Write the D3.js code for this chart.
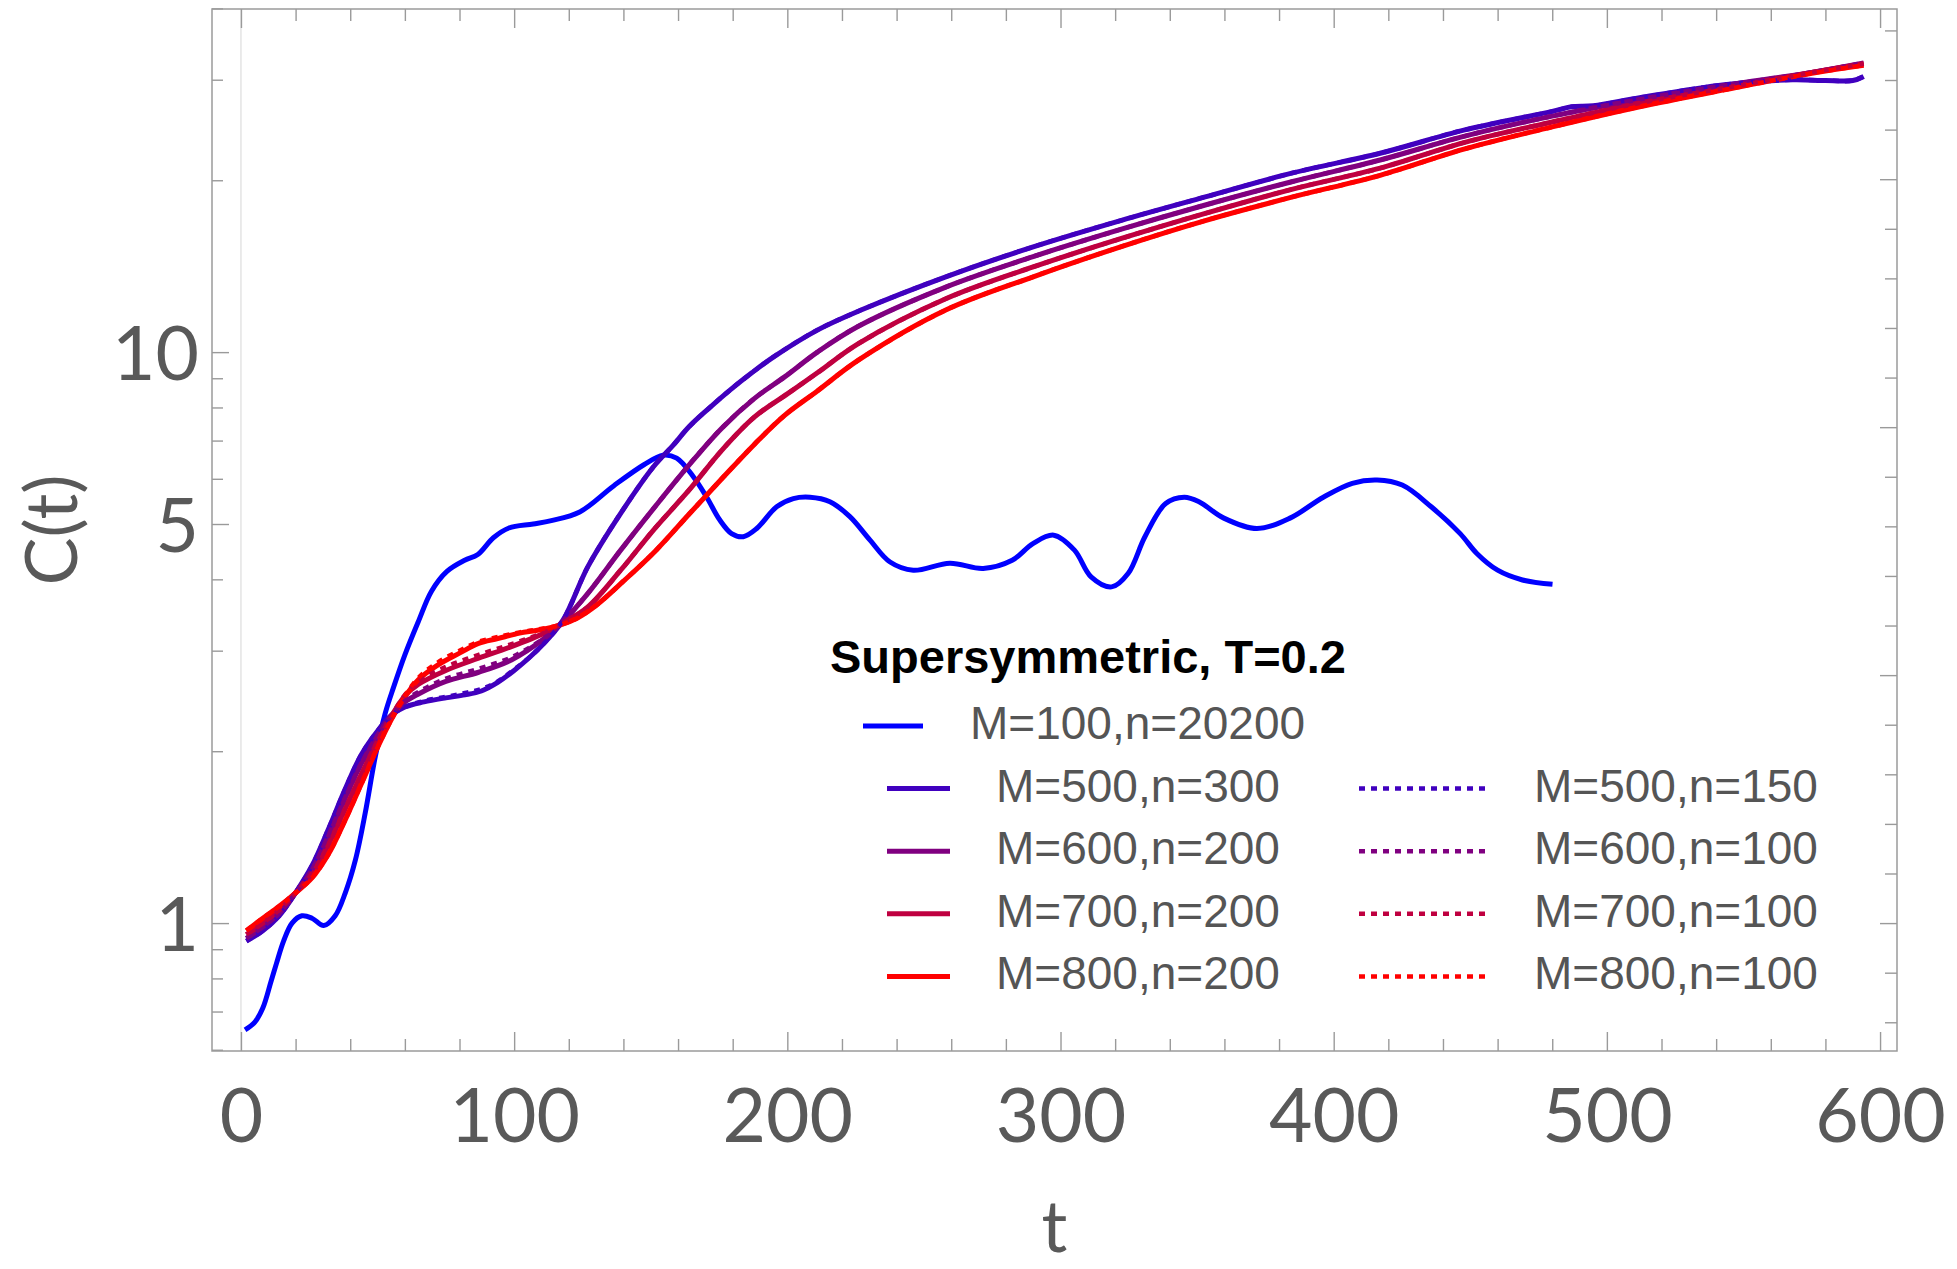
<!DOCTYPE html>
<html>
<head>
<meta charset="utf-8">
<script src="https://cdn.jsdelivr.net/npm/d3@7"></script>
<style>
  body { margin: 0; background: #fff; }
</style>
</head>
<body>
<div id="chart"></div>
<script>
const W = 1957, H = 1269;
const frame = {left: 212, right: 1897, top: 9, bottom: 1051};

// tick values
const xMajor = [0, 100, 200, 300, 400, 500, 600];
const xMinor = [20, 40, 60, 80, 120, 140, 160, 180, 220, 240, 260, 280, 320, 340, 360, 380,
                420, 440, 460, 480, 520, 540, 560, 580];
const yMajor = [1, 5, 10];
const yMinor = [0.6, 0.7, 0.8, 0.9, 2, 3, 4, 6, 7, 8, 9, 20, 30, 40];
const lnMajor = [0, 1, 2, 3];
const lnMinor = [-0.4, -0.2, 0.2, 0.4, 0.6, 0.8, 1.2, 1.4, 1.6, 1.8, 2.2, 2.4, 2.6, 2.8,
                 3.2, 3.4, 3.6];

// series [t, C(t)]
const m100 = [[1.5,0.65],[5,0.67],[8,0.71],[11,0.79],[13,0.85],[15.6,0.93],[18.7,1.0],[22.3,1.03],
  [26,1.02],[30.3,0.99],[34.5,1.03],[38.2,1.13],[41.9,1.29],[45.5,1.56],[49.2,1.96],[52.8,2.33],
  [56,2.6],[60,2.95],[65,3.38],[69.7,3.81],[75.4,4.13],[81.9,4.32],[86.7,4.42],[92.4,4.73],
  [98.1,4.92],[107,5.0],[113.6,5.07],[124,5.25],[136.4,5.83],[147.5,6.35],[154.5,6.6],[159.5,6.52],
  [165.6,6.05],[170.5,5.57],[175.3,5.08],[179.6,4.81],[183.9,4.75],[188.8,4.91],[196.1,5.36],
  [202.2,5.54],[208.3,5.57],[215.6,5.47],[222.9,5.15],[230.2,4.69],[237.6,4.29],[246.1,4.15],
  [259.5,4.27],[271.7,4.18],[282.3,4.32],[289.9,4.62],[297.5,4.78],[305.1,4.5],[311.2,4.04],
  [318.7,3.88],[324.8,4.1],[330.9,4.75],[338.5,5.43],[345.3,5.57],[350.7,5.47],[359.8,5.12],
  [371.9,4.91],[384,5.12],[396.2,5.57],[406.8,5.89],[415.9,5.97],[425.1,5.85],[435.7,5.36],
  [446.3,4.81],[452.4,4.44],[460,4.15],[469.1,3.99],[480.1,3.92]];

const m500 = [[2,0.93],[8,0.97],[14,1.03],[20,1.13],[26,1.26],[32,1.46],[38,1.71],[44,1.97],
  [50,2.17],[55,2.31],[60,2.39],[67,2.44],[75,2.48],[82,2.51],[88,2.55],[94,2.64],[100,2.77],
  [106,2.93],[112,3.13],[118,3.4],[127,4.21],[139,5.22],[151,6.3],[158,6.85],[164,7.4],[171,7.95],
  [179,8.58],[187,9.2],[195,9.81],[211,10.93],[227,11.85],[258,13.55],[290,15.29],[322,17.0],
  [353,18.7],[385,20.6],[417,22.3],[448,24.5],[480,26.4],[487,26.9],[495,27.0],[512,27.9],
  [543,29.4],[568,30.0],[580,29.9],[590,29.9],[594,30.4]];
const m600 = [[2,0.94],[8,0.985],[14,1.04],[20,1.13],[26,1.24],[32,1.42],[38,1.65],[44,1.9],
  [50,2.13],[55,2.31],[60,2.44],[65,2.52],[75,2.65],[87,2.75],[99,2.89],[111,3.15],[118,3.38],
  [127,3.78],[139,4.5],[151,5.32],[164,6.34],[176,7.36],[188,8.3],[199,9.05],[211,10.0],
  [226,11.1],[258,13.0],[290,14.7],[322,16.4],[353,18.1],[385,19.9],[417,21.7],[448,23.9],
  [480,25.9],[512,27.7],[543,29.3],[575,30.9],[594,32.1]];
const m700 = [[2,0.955],[8,1.0],[14,1.055],[20,1.13],[26,1.22],[32,1.37],[38,1.58],[44,1.82],
  [50,2.08],[55,2.3],[60,2.5],[65,2.62],[75,2.77],[87,2.91],[99,3.05],[111,3.22],[118,3.36],
  [127,3.58],[139,4.15],[151,4.88],[164,5.73],[176,6.73],[188,7.7],[200,8.45],[211,9.2],
  [226,10.35],[258,12.4],[290,14.1],[322,15.8],[353,17.5],[385,19.3],[417,21.0],[448,23.3],
  [480,25.3],[512,27.3],[543,29.0],[575,30.9],[594,32.0]];
const m800 = [[2,0.97],[8,1.02],[14,1.07],[20,1.13],[26,1.2],[32,1.32],[38,1.51],[44,1.75],
  [50,2.03],[55,2.27],[60,2.49],[65,2.67],[72,2.83],[80,2.97],[87,3.09],[94,3.15],[102,3.22],
  [109,3.26],[117,3.33],[123,3.42],[130,3.6],[140,3.97],[152,4.5],[164,5.2],[176,6.0],[188,6.9],
  [199,7.75],[211,8.55],[226,9.68],[258,11.85],[290,13.55],[322,15.29],[353,17.0],[385,18.7],
  [417,20.4],[448,22.7],[480,24.8],[512,26.9],[543,28.8],[575,30.8],[594,31.8]];

// dotted (smaller n) runs: nearly on top of the solid ones
const d500 = [[2,0.93],[8,0.97],[14,1.03],[20,1.13],[26,1.26],[32,1.46],[38,1.71],[44,1.97],
  [50,2.17],[55,2.31],[60,2.39],[67,2.45],[75,2.49],[82,2.53],[88,2.57],[94,2.65],[100,2.78],
  [106,2.93],[112,3.13],[118,3.4],[127,4.21],[139,5.22],[151,6.3],[158,6.85],[164,7.4],[171,7.95],
  [179,8.58],[187,9.2],[195,9.81],[211,10.93],[227,11.85],[258,13.55],[290,15.29],[322,17.0],
  [353,18.7],[385,20.6],[417,22.3],[448,24.5],[480,26.4],[487,26.9],[495,27.0],[512,27.9],
  [543,29.4],[568,30.0],[580,29.9],[590,29.9],[594,30.4]];
const d600 = [[2,0.94],[8,0.985],[14,1.04],[20,1.13],[26,1.24],[32,1.42],[38,1.65],[44,1.9],
  [50,2.13],[55,2.31],[60,2.45],[65,2.54],[75,2.68],[87,2.79],[99,2.92],[111,3.16],[118,3.38],
  [127,3.78],[139,4.5],[151,5.32],[164,6.34],[176,7.36],[188,8.3],[199,9.05],[211,10.0],
  [226,11.1],[258,13.0],[290,14.7],[322,16.4],[353,18.1],[385,19.9],[417,21.7],[448,23.9],
  [480,25.9],[512,27.7],[543,29.3],[575,30.9],[594,32.1]];
const d700 = [[2,0.955],[8,1.0],[14,1.055],[20,1.13],[26,1.22],[32,1.37],[38,1.58],[44,1.82],
  [50,2.08],[55,2.3],[60,2.51],[65,2.65],[75,2.81],[87,2.95],[99,3.08],[111,3.23],[118,3.36],
  [127,3.58],[139,4.15],[151,4.88],[164,5.73],[176,6.73],[188,7.7],[200,8.45],[211,9.2],
  [226,10.35],[258,12.4],[290,14.1],[322,15.8],[353,17.5],[385,19.3],[417,21.0],[448,23.3],
  [480,25.3],[512,27.3],[543,29.0],[575,30.9],[594,32.0]];
const d800 = [[2,0.97],[8,1.02],[14,1.07],[20,1.13],[26,1.2],[32,1.32],[38,1.51],[44,1.75],
  [50,2.03],[55,2.27],[60,2.5],[65,2.69],[72,2.86],[80,3.0],[87,3.11],[94,3.17],[102,3.23],
  [109,3.27],[117,3.33],[123,3.42],[130,3.6],[140,3.97],[152,4.5],[164,5.2],[176,6.0],[188,6.9],
  [199,7.75],[211,8.55],[226,9.68],[258,11.85],[290,13.55],[322,15.29],[353,17.0],[385,18.7],
  [417,20.4],[448,22.7],[480,24.8],[512,26.9],[543,28.8],[575,30.8],[594,31.8]];

const blueColor = "#0000ff";
const seriesColors = ["#4000bf", "#800080", "#bf0040", "#ff0000"];
const solidLabels = ["M=500,n=300", "M=600,n=200", "M=700,n=200", "M=800,n=200"];
const dottedLabels = ["M=500,n=150", "M=600,n=100", "M=700,n=100", "M=800,n=100"];
const legendTitle = "Supersymmetric, T=0.2";
const blueLabel = "M=100,n=20200";

const solids = [m500, m600, m700, m800];
const dotted = [d500, d600, d700, d800];

const tickGray = "#9a9a9a", labelGray = "#595959";
const numFont = "Lato, 'Open Sans', sans-serif";
const legFont = "'Liberation Sans', Arial, sans-serif";

const svg = d3.select("#chart").append("svg")
    .attr("width", W).attr("height", H);

const x = d3.scaleLinear().domain([-10.6, 606.2]).range([frame.left, frame.right]);
const y = d3.scaleLog().domain([0.597, 39.9]).range([frame.bottom, frame.top]);
const yLn = d3.scaleLinear().domain([Math.log(0.597), Math.log(39.9)]).range([frame.bottom, frame.top]);

// faint vertical axis line at t = 0
svg.append("line")
    .attr("x1", x(0)).attr("x2", x(0))
    .attr("y1", frame.top).attr("y2", frame.bottom)
    .attr("stroke", "#e4e4e4").attr("stroke-width", 1.5);

function drawAxis(axis, tx, ty) {
    const g = svg.append("g")
        .attr("transform", `translate(${tx},${ty})`)
        .call(axis);
    g.select(".domain").remove();
    g.selectAll("line").attr("stroke", tickGray).attr("stroke-width", 1.4);
    g.selectAll("text")
        .attr("font-family", numFont)
        .attr("font-size", 75)
        .attr("fill", labelGray);
    return g;
}

// bottom
drawAxis(d3.axisBottom(x).tickValues(xMinor).tickSize(-12).tickFormat(""), 0, frame.bottom);
drawAxis(d3.axisBottom(x).tickValues(xMajor).tickSize(-19).tickFormat(d3.format("d")), 0, frame.bottom)
    .selectAll("text").attr("y", 91).attr("dy", null);
// top
drawAxis(d3.axisTop(x).tickValues(xMinor).tickSize(-12).tickFormat(""), 0, frame.top);
drawAxis(d3.axisTop(x).tickValues(xMajor).tickSize(-19).tickFormat(""), 0, frame.top);
// left
drawAxis(d3.axisLeft(y).tickValues(yMinor).tickSize(-11).tickFormat(""), frame.left, 0);
drawAxis(d3.axisLeft(y).tickValues(yMajor).tickSize(-17).tickPadding(13).tickFormat(d3.format("d")), frame.left, 0)
    .selectAll("text").attr("dy", "0.36em");
// right (natural-log spaced ticks)
drawAxis(d3.axisRight(yLn).tickValues(lnMinor).tickSize(-12).tickFormat(""), frame.right, 0);
drawAxis(d3.axisRight(yLn).tickValues(lnMajor).tickSize(-17).tickFormat(""), frame.right, 0);

// curves
svg.append("clipPath").attr("id", "plotclip")
    .append("rect")
    .attr("x", frame.left).attr("y", frame.top)
    .attr("width", frame.right - frame.left).attr("height", frame.bottom - frame.top);

const line = d3.line()
    .x(d => x(d[0]))
    .y(d => y(d[1]))
    .curve(d3.curveCatmullRom.alpha(0.5));

const plot = svg.append("g").attr("clip-path", "url(#plotclip)");

plot.append("path")
    .datum(m100)
    .attr("d", line)
    .attr("fill", "none")
    .attr("stroke", blueColor)
    .attr("stroke-width", 5);

solids.forEach((s, i) => {
    plot.append("path")
        .datum(s)
        .attr("d", line)
        .attr("fill", "none")
        .attr("stroke", seriesColors[i])
        .attr("stroke-width", 5);
});
dotted.forEach((s, i) => {
    plot.append("path")
        .datum(s)
        .attr("d", line)
        .attr("fill", "none")
        .attr("stroke", seriesColors[i])
        .attr("stroke-width", 4.5)
        .attr("stroke-dasharray", "6,6");
});

// frame
svg.append("rect")
    .attr("x", frame.left).attr("y", frame.top)
    .attr("width", frame.right - frame.left).attr("height", frame.bottom - frame.top)
    .attr("fill", "none")
    .attr("stroke", tickGray)
    .attr("stroke-width", 1.5);

// axis labels
svg.append("text")
    .attr("x", (frame.left + frame.right) / 2)
    .attr("y", 1252)
    .attr("text-anchor", "middle")
    .attr("font-family", numFont)
    .attr("font-size", 72)
    .attr("fill", labelGray)
    .text("t");

svg.append("text")
    .attr("transform", "translate(77,530) rotate(-90)")
    .attr("text-anchor", "middle")
    .attr("font-family", numFont)
    .attr("font-size", 72)
    .attr("fill", labelGray)
    .text("C(t)");

// legend
const legend = svg.append("g");
legend.append("text")
    .attr("x", 830).attr("y", 673)
    .attr("font-family", legFont)
    .attr("font-weight", "bold")
    .attr("font-size", 47)
    .attr("fill", "#000")
    .text(legendTitle);

const row0 = 726, rowStep = 62.6;

legend.append("line")
    .attr("x1", 863).attr("x2", 923)
    .attr("y1", row0).attr("y2", row0)
    .attr("stroke", blueColor).attr("stroke-width", 5);
legend.append("text")
    .attr("x", 970).attr("y", row0 + 13)
    .attr("font-family", legFont).attr("font-size", 46)
    .attr("fill", "#555")
    .text(blueLabel);

seriesColors.forEach((c, i) => {
    const yy = row0 + rowStep * (i + 1);
    legend.append("line")
        .attr("x1", 887).attr("x2", 950)
        .attr("y1", yy).attr("y2", yy)
        .attr("stroke", c).attr("stroke-width", 5);
    legend.append("text")
        .attr("x", 996).attr("y", yy + 13)
        .attr("font-family", legFont).attr("font-size", 46)
        .attr("fill", "#555")
        .text(solidLabels[i]);
    legend.append("line")
        .attr("x1", 1359).attr("x2", 1489)
        .attr("y1", yy).attr("y2", yy)
        .attr("stroke", c).attr("stroke-width", 4.5)
        .attr("stroke-dasharray", "6,6");
    legend.append("text")
        .attr("x", 1534).attr("y", yy + 13)
        .attr("font-family", legFont).attr("font-size", 46)
        .attr("fill", "#555")
        .text(dottedLabels[i]);
});
</script>
</body>
</html>
